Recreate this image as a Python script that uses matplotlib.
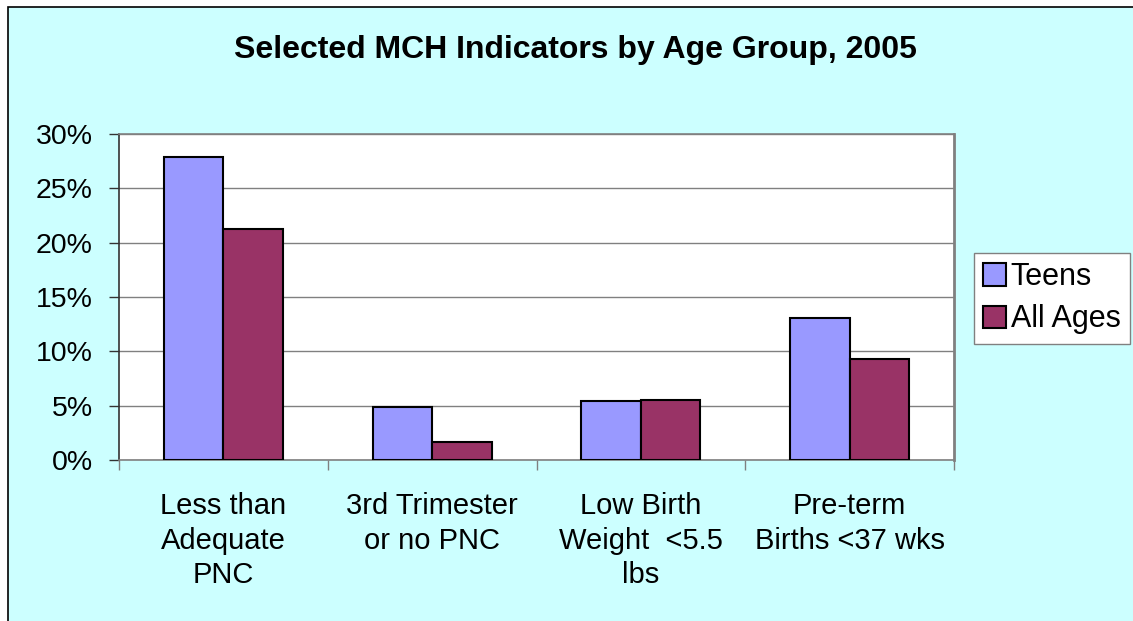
import numpy as np
import matplotlib
matplotlib.use("Agg")
import matplotlib.pyplot as plt
from matplotlib.patches import Rectangle

# data
categories = ["Less than\nAdequate\nPNC", "3rd Trimester\nor no PNC",
              "Low Birth\nWeight  <5.5\nlbs", "Pre-term\nBirths <37 wks"]
teens = [27.9, 4.85, 5.45, 13.1]
all_ages = [21.3, 1.65, 5.55, 9.3]
series_names = ["Teens", "All Ages"]
yticks = [0, 5, 10, 15, 20, 25, 30]

plt.rcParams['font.family'] = ['Liberation Sans', 'DejaVu Sans']

fig = plt.figure(figsize=(11.33, 6.21), dpi=100)
fig.patch.set_facecolor('white')

# cyan chart area with black frame (cut off at right and bottom)
frame = Rectangle((8 / 1133, -0.1), 1.2, 1 - 7 / 621 + 0.1, transform=fig.transFigure,
                  facecolor='#CCFFFF', edgecolor='black', linewidth=1.2, zorder=-10)
fig.patches.append(frame)

ax = fig.add_axes([119 / 1133, 161 / 621, 835 / 1133, 326 / 621])
ax.set_facecolor('white')

x = np.arange(len(categories))
w = 0.285
ax.bar(x - w / 2, teens, w, color='#9999FF', edgecolor='black', linewidth=1.5,
       label=series_names[0], zorder=3)
ax.bar(x + w / 2, all_ages, w, color='#993366', edgecolor='black', linewidth=1.5,
       label=series_names[1], zorder=3)

ax.set_xlim(-0.5, len(categories) - 0.5)
ax.set_ylim(0, 30)
ax.set_yticks(yticks)
ax.set_yticklabels([f"{v}%" for v in yticks], fontsize=20.5)
ax.yaxis.grid(True, color='#808080', linewidth=1.0, zorder=0)
ax.tick_params(axis='y', length=7, width=1, color='#333333', pad=12)

ax.set_xticks(x)
ax.set_xticklabels(categories, fontsize=21, linespacing=1.3)
ax.tick_params(axis='x', which='major', length=0, pad=23)
ax.set_xticks(np.arange(len(categories) + 1) - 0.5, minor=True)
ax.tick_params(axis='x', which='minor', length=7, width=1, color='#808080')

ax.spines['left'].set_color('#333333')
ax.spines['left'].set_linewidth(1.2)
for s in ['bottom', 'right', 'top']:
    ax.spines[s].set_color('#808080')
    ax.spines[s].set_linewidth(1.2)
ax.spines['right'].set_linewidth(2.0)

fig.text(575 / 1133, 1 - 50 / 621, "Selected MCH Indicators by Age Group, 2005",
         ha='center', va='center', fontsize=23, fontweight='bold')

leg = fig.legend(loc='upper left', bbox_to_anchor=(974 / 1133, 1 - 253 / 621),
                 fontsize=22, frameon=True, fancybox=False, handlelength=0.75,
                 handleheight=0.75, handletextpad=0.15, labelspacing=0.4,
                 borderpad=0.3, borderaxespad=0, framealpha=1)
leg.get_frame().set_edgecolor('#808080')
leg.get_frame().set_facecolor('white')
leg.get_frame().set_linewidth(1.0)

fig.savefig("out.png", dpi=100)
